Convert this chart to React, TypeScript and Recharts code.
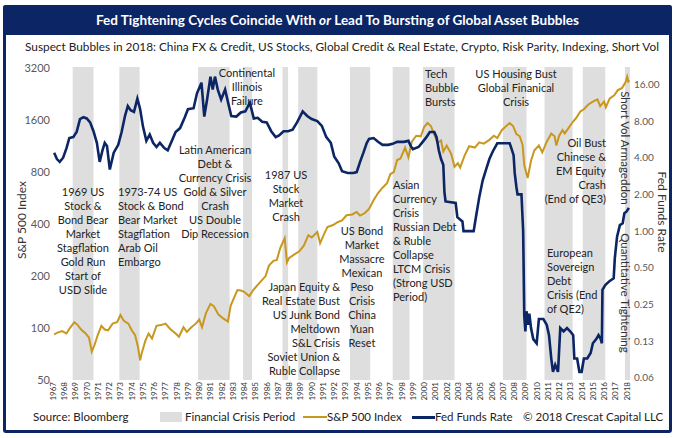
import React from "react";
import { ComposedChart, Line, XAxis, YAxis, ReferenceArea } from "recharts";

const NAVY = "#0b2565";
const GOLD = "#c8971d";
const BAND = "#dedede";
const FONT = "Lato, 'Open Sans', sans-serif";

// S&P 500 index (left log axis)
const spxYears = [
  1967.1, 1967.4, 1967.8, 1968.2, 1968.5, 1968.9, 1969.2, 1969.5, 1969.9, 1970.2, 1970.45, 1970.7,
  1971.0, 1971.3, 1971.6, 1971.9, 1972.3, 1972.7, 1973.0, 1973.3, 1973.7, 1974.0, 1974.3, 1974.55,
  1974.75, 1974.9, 1975.2, 1975.5, 1975.8, 1976.2, 1976.6, 1977.0, 1977.4, 1977.9, 1978.2, 1978.6,
  1978.9, 1979.3, 1979.7, 1980.0, 1980.25, 1980.6, 1981.0, 1981.3, 1981.7, 1982.1, 1982.55, 1982.8,
  1983.1, 1983.4, 1983.7, 1984.0, 1984.45, 1984.8, 1985.2, 1985.6, 1985.9, 1986.2, 1986.6, 1986.9,
  1987.2, 1987.6, 1987.8, 1988.0, 1988.5, 1988.9, 1989.3, 1989.7, 1990.0, 1990.5, 1990.75, 1991.1,
  1991.4, 1991.9, 1992.3, 1992.7, 1993.1, 1993.6, 1994.0, 1994.3, 1994.7, 1995.1, 1995.5, 1995.9,
  1996.3, 1996.7, 1997.0, 1997.3, 1997.6, 1997.9, 1998.3, 1998.6, 1998.9, 1999.3, 1999.7, 2000.0,
  2000.3, 2000.6, 2000.9, 2001.2, 2001.5, 2001.7, 2002.0, 2002.4, 2002.7, 2003.0, 2003.2, 2003.6,
  2004.0, 2004.5, 2004.9, 2005.3, 2005.8, 2006.2, 2006.5, 2006.9, 2007.3, 2007.6, 2007.9, 2008.2,
  2008.5, 2008.75, 2008.9, 2009.2, 2009.5, 2009.8, 2010.2, 2010.5, 2010.9, 2011.3, 2011.6, 2011.75,
  2012.0, 2012.3, 2012.5, 2012.8, 2013.2, 2013.5, 2013.9, 2014.2, 2014.6, 2015.0, 2015.4, 2015.65,
  2016.0, 2016.15, 2016.5, 2016.9, 2017.2, 2017.6, 2017.9, 2018.05, 2018.15, 2018.25,
];
const spxValues = [
  92, 94, 96, 93, 100, 108, 104, 98, 93, 88, 73, 80,
  92, 103, 98, 97, 106, 108, 119, 110, 106, 97, 91, 78,
  65, 72, 84, 93, 87, 103, 104, 106, 99, 93, 89, 101,
  95, 101, 106, 112, 101, 122, 138, 134, 120, 114, 109, 135,
  150, 166, 165, 162, 153, 166, 178, 190, 200, 230, 245, 248,
  290, 332, 240, 255, 268, 278, 300, 345, 335, 360, 310, 350,
  385, 395, 410, 420, 450, 455, 470, 448, 462, 490, 550, 605,
  650, 690, 780, 800, 940, 960, 1110, 975, 1200, 1300, 1290, 1460,
  1540, 1480, 1320, 1180, 1220, 1050, 1140, 1020, 860, 900, 850, 1000,
  1130, 1110, 1190, 1170, 1230, 1300, 1260, 1400, 1480, 1540, 1480, 1330,
  1290, 1150, 880, 740, 930, 1070, 1140, 1040, 1200, 1340, 1290, 1140,
  1300, 1400, 1340, 1430, 1560, 1640, 1800, 1850, 1970, 2050, 2110, 1930,
  2050, 1900, 2140, 2230, 2380, 2460, 2650, 2860, 2680, 2720,
];

// Fed funds rate (right log axis)
const fedYears = [
  1967.1, 1967.35, 1967.6, 1967.9, 1968.2, 1968.45, 1968.8, 1969.1, 1969.4, 1969.7, 1970.0, 1970.3,
  1970.6, 1970.9, 1971.15, 1971.4, 1971.6, 1971.8, 1972.05, 1972.4, 1972.8, 1973.1, 1973.4, 1973.65,
  1973.9, 1974.2, 1974.5, 1974.75, 1975.0, 1975.3, 1975.6, 1975.9, 1976.2, 1976.5, 1976.9, 1977.2,
  1977.6, 1977.9, 1978.3, 1978.7, 1979.0, 1979.5, 1979.8, 1980.2, 1980.45, 1980.7, 1981.0, 1981.2,
  1981.4, 1981.65, 1981.95, 1982.3, 1982.6, 1982.85, 1983.3, 1983.7, 1984.1, 1984.5, 1984.85, 1985.2,
  1985.6, 1986.0, 1986.4, 1986.8, 1987.1, 1987.5, 1987.9, 1988.3, 1988.7, 1989.2, 1989.6, 1990.0,
  1990.5, 1990.9, 1991.3, 1991.7, 1992.0, 1992.4, 1992.7, 1993.2, 1993.7, 1994.0, 1994.3, 1994.6,
  1994.9, 1995.1, 1995.5, 1995.9, 1996.3, 1996.8, 1997.2, 1997.6, 1998.2, 1998.6, 1998.8, 1999.0,
  1999.5, 1999.8, 2000.2, 2000.5, 2000.9, 2001.1, 2001.3, 2001.5, 2001.7, 2001.8, 2001.9, 2002.8,
  2002.95, 2003.4, 2003.5, 2004.4, 2004.6, 2004.9, 2005.2, 2005.5, 2005.8, 2006.1, 2006.5, 2007.6,
  2007.75, 2007.95, 2008.05, 2008.2, 2008.3, 2008.65, 2008.8, 2008.9, 2009.0, 2009.1, 2009.25, 2009.35,
  2009.5, 2009.7, 2010.0, 2010.2, 2010.6, 2010.9, 2011.1, 2011.3, 2011.45, 2011.65, 2011.9, 2012.1,
  2012.4, 2012.7, 2013.0, 2013.25, 2013.35, 2013.6, 2013.8, 2014.0, 2014.2, 2014.5, 2014.8, 2015.0,
  2015.3, 2015.5, 2015.7, 2015.8, 2015.85, 2016.1, 2016.5, 2016.85, 2016.95, 2017.15, 2017.4, 2017.65,
  2017.8, 2018.0, 2018.2,
];
const fedValues = [
  4.4, 3.9, 3.7, 4.0, 4.8, 5.8, 5.9, 6.5, 8.3, 8.6, 8.4, 7.8,
  6.6, 5.3, 3.7, 4.6, 5.3, 5.0, 3.2, 4.4, 5.1, 6.5, 8.8, 10.6,
  9.8, 9.5, 12.2, 10.0, 7.2, 5.5, 6.2, 5.3, 4.9, 5.3, 4.8, 4.6,
  5.6, 6.5, 7.0, 8.5, 10.0, 10.2, 13.5, 16.5, 8.7, 12.0, 18.5, 14.5,
  18.5, 14.5, 12.0, 14.5, 11.0, 8.8, 8.7, 9.4, 9.6, 11.3, 8.4, 8.5,
  7.9, 7.8, 6.6, 5.9, 6.1, 6.6, 6.6, 6.8, 7.8, 9.6, 8.8, 8.3,
  8.0, 7.3, 5.9, 5.3, 4.1, 3.6, 3.1, 3.0, 3.0, 3.05, 3.7, 4.4,
  5.3, 5.7, 5.8, 5.4, 5.1, 5.1, 5.2, 5.4, 5.4, 5.5, 5.0, 4.7,
  4.9, 5.3, 5.9, 6.5, 6.5, 5.9, 4.6, 3.9, 3.5, 2.1, 1.75, 1.7,
  1.3, 1.2, 1.0, 1.0, 1.3, 1.9, 2.6, 3.2, 3.9, 4.5, 5.25, 5.25,
  4.8, 4.2, 3.0, 2.3, 2.0, 2.0, 1.0, 0.2, 0.15, 0.22, 0.17, 0.21,
  0.16, 0.13, 0.12, 0.19, 0.19, 0.17, 0.14, 0.09, 0.07, 0.08, 0.07, 0.16,
  0.15, 0.16, 0.15, 0.14, 0.09, 0.09, 0.07, 0.07, 0.09, 0.09, 0.1, 0.12,
  0.13, 0.14, 0.13, 0.12, 0.33, 0.36, 0.39, 0.41, 0.6, 0.9, 1.12, 1.16,
  1.4, 1.45, 1.55,
];

// Financial crisis periods (shaded bands)
const crisisStarts = [1968.75, 1972.9, 1979.9, 1983.9, 1987.4, 1988.8, 1993.4, 1997.2, 1999.9, 2007.0, 2010.7, 2014.1, 2017.85];
const crisisEnds = [1970.6, 1974.7, 1982.7, 1984.7, 1987.9, 1990.5, 1995.2, 1998.7, 2002.7, 2009.1, 2013.2, 2016.1, 2018.3];

const yearTicks = [
  1967, 1968, 1969, 1970, 1971, 1972, 1973, 1974, 1975, 1976, 1977, 1978, 1979, 1980, 1981, 1982, 1983,
  1984, 1985, 1986, 1987, 1988, 1989, 1990, 1991, 1992, 1993, 1994, 1995, 1996, 1997, 1998, 1999, 2000,
  2001, 2002, 2003, 2004, 2005, 2006, 2007, 2008, 2009, 2010, 2011, 2012, 2013, 2014, 2015, 2016, 2017, 2018,
];
const spxTicks = [50, 100, 200, 400, 800, 1600, 3200];
const fedTicks = [0.0625, 0.125, 0.25, 0.5, 1, 2, 4, 8, 16];

const spxData = spxYears.map((year, i) => ({ year, value: spxValues[i] }));
const fedData = fedYears.map((year, i) => ({ year, value: fedValues[i] }));

type Note = { lines: string[]; x: number; y: number; align: "left" | "center" | "right" };

const notes: Note[] = [
  { x: 83, y: 192, align: "center", lines: ["1969 US", "Stock &", "Bond Bear", "Market", "Stagflation", "Gold Run", "Start of", "USD Slide"] },
  { x: 118, y: 192, align: "left", lines: ["1973-74 US", "Stock & Bond", "Bear Market", "Stagflation", "Arab Oil", "Embargo"] },
  { x: 215, y: 150, align: "center", lines: ["Latin American", "Debt &", "Currency Crisis", "Gold & Silver", "Crash", "US Double", "Dip Recession"] },
  { x: 247, y: 73, align: "center", lines: ["Continental", "Illinois", "Failure"] },
  { x: 286, y: 175, align: "center", lines: ["1987 US", "Stock", "Market", "Crash"] },
  { x: 340, y: 287, align: "right", lines: ["Japan Equity &", "Real Estate Bust", "US Junk Bond", "Meltdown", "S&L Crisis", "Soviet Union &", "Ruble Collapse"] },
  { x: 362, y: 231, align: "center", lines: ["US Bond", "Market", "Massacre", "Mexican", "Peso", "Crisis", "China", "Yuan", "Reset"] },
  { x: 393, y: 185, align: "left", lines: ["Asian", "Currency", "Crisis", "Russian Debt", "& Ruble", "Collapse", "LTCM Crisis", "(Strong USD", "Period)"] },
  { x: 425, y: 74, align: "left", lines: ["Tech", "Bubble", "Bursts"] },
  { x: 516, y: 74, align: "center", lines: ["US Housing Bust", "Global Finanical", "Crisis"] },
  { x: 606, y: 143, align: "right", lines: ["Oil Bust", "Chinese &", "EM Equity", "Crash", "(End of QE3)"] },
  { x: 547, y: 253, align: "left", lines: ["European", "Sovereign", "Debt", "Crisis (End", "of QE2)"] },
];

function NoteBlock({ lines, x, y, align }: Note) {
  const left = align === "left" ? x : align === "center" ? x - 100 : x - 200;
  return (
    <div
      style={{
        position: "absolute", left, top: y - 7, width: 200, textAlign: align,
        fontSize: 11, lineHeight: "14px", color: "#222", whiteSpace: "nowrap",
      }}
    >
      {lines.map((l) => (
        <div key={l}>{l}</div>
      ))}
    </div>
  );
}

function VText({ text, x, y, angle, size }: { text: string; x: number; y: number; angle: number; size: number }) {
  return (
    <div
      style={{
        position: "absolute", left: x, top: y, whiteSpace: "nowrap", fontSize: size, color: "#333",
        transform: `translate(-50%, -50%) rotate(${angle}deg)`, lineHeight: 1,
      }}
    >
      {text}
    </div>
  );
}

function YearTick(props: any) {
  const { x, y, payload } = props;
  return (
    <text
      x={x}
      y={y}
      transform={`rotate(-90 ${x} ${y})`}
      textAnchor="end"
      dominantBaseline="central"
      fontSize={8}
      fill="#333"
      fontFamily={FONT}
    >
      {payload.value}
    </text>
  );
}

export default function App() {
  return (
    <div style={{ position: "absolute", left: 0, top: 0, width: 684, height: 438, background: "#fff", fontFamily: FONT, overflow: "hidden" }}>
      <div style={{ position: "absolute", left: 3, top: 5, width: 669, height: 428, boxSizing: "border-box", border: `3px solid ${NAVY}`, borderRadius: 3 }} />
      <div
        style={{
          position: "absolute", left: 3, top: 5, width: 669, height: 30, background: NAVY, color: "#fff",
          fontWeight: 700, fontSize: 13.5, lineHeight: "30px", textAlign: "center", borderRadius: "3px 3px 0 0",
        }}
      >
        Fed Tightening Cycles Coincide With <i>or</i> Lead To Bursting of Global Asset Bubbles
      </div>
      <div style={{ position: "absolute", left: 0, top: 40, width: 684, textAlign: "center", fontSize: 11.8, lineHeight: "14px", color: "#222", whiteSpace: "nowrap" }}>
        Suspect Bubbles in 2018: China FX &amp; Credit, US Stocks, Global Credit &amp; Real Estate, Crypto, Risk Parity, Indexing, Short Vol
      </div>

      <div style={{ position: "absolute", left: 0, top: 0 }}>
        <ComposedChart width={684} height={438} margin={{ top: 67, right: 0, bottom: 36, left: 0 }}>
          <XAxis
            type="number"
            dataKey="year"
            domain={[1967, 2018.3]}
            ticks={yearTicks}
            interval={0}
            allowDataOverflow
            axisLine={false}
            tickLine={false}
            tickSize={0}
            tickMargin={2}
            height={22}
            tick={<YearTick />}
          />
          <YAxis
            yAxisId="spx"
            scale="log"
            domain={[50, 3250]}
            ticks={spxTicks}
            interval={0}
            allowDataOverflow
            width={53}
            axisLine={false}
            tickLine={false}
            tickSize={0}
            tickMargin={3}
            tick={{ fontSize: 11, fill: "#595959", fontFamily: FONT }}
          />
          <YAxis
            yAxisId="fed"
            orientation="right"
            scale="log"
            domain={[0.06, 22.2]}
            ticks={fedTicks}
            interval={0}
            allowDataOverflow
            width={54}
            axisLine={false}
            tickLine={false}
            tickSize={0}
            tickMargin={4}
            tickFormatter={(v: number) => v.toFixed(2)}
            tick={{ fontSize: 10, fill: "#595959", fontFamily: FONT }}
          />
          {crisisStarts.map((s, i) => (
            <ReferenceArea key={s} yAxisId="spx" x1={s} x2={crisisEnds[i]} fill={BAND} fillOpacity={1} stroke="none" />
          ))}
          <Line yAxisId="spx" data={spxData} dataKey="value" type="linear" stroke={GOLD} strokeWidth={2} dot={false} isAnimationActive={false} />
          <Line yAxisId="fed" data={fedData} dataKey="value" type="linear" stroke={NAVY} strokeWidth={2.6} dot={false} isAnimationActive={false} />
        </ComposedChart>
      </div>

      {notes.map((n) => (
        <NoteBlock key={n.lines[0] + n.x} {...n} />
      ))}
      <VText text="Short Vol Armageddon" x={625} y={148} angle={90} size={11.5} />
      <VText text="Quantitative Tightening" x={625} y={293} angle={90} size={11.5} />
      <VText text="S&P 500 Index" x={22} y={220} angle={-90} size={12} />
      <VText text="Fed Funds Rate" x={662} y={212} angle={90} size={12} />

      <div style={{ position: "absolute", top: 409, left: 0, width: 684, height: 16, fontSize: 11.5, lineHeight: "16px", color: "#222" }}>
        <span style={{ position: "absolute", left: 33 }}>Source: Bloomberg</span>
        <span style={{ position: "absolute", left: 160, top: 3, width: 22, height: 10, background: BAND }} />
        <span style={{ position: "absolute", left: 185 }}>Financial Crisis Period</span>
        <span style={{ position: "absolute", left: 303, top: 7, width: 24, height: 2, background: GOLD }} />
        <span style={{ position: "absolute", left: 327 }}>S&amp;P 500 Index</span>
        <span style={{ position: "absolute", left: 412, top: 7, width: 23, height: 2.5, background: NAVY }} />
        <span style={{ position: "absolute", left: 435 }}>Fed Funds Rate</span>
        <span style={{ position: "absolute", left: 523 }}>© 2018 Crescat Capital LLC</span>
      </div>
    </div>
  );
}
